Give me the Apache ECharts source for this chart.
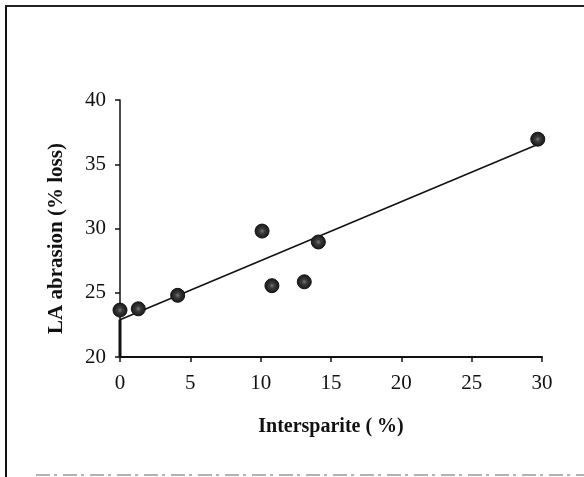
<!DOCTYPE html>
<html>
<head>
<meta charset="utf-8">
<title>LA abrasion vs Intersparite</title>
<script src="https://cdn.jsdelivr.net/npm/echarts@6/dist/echarts.min.js"></script>
<style>
  html, body { margin: 0; padding: 0; background: #fff; }
  #chart { width: 584px; height: 477px; }
</style>
</head>
<body>
<div id="chart"></div>
<script>
// measured samples
const intersparite = [0, 1.3, 4.1, 10.1, 10.8, 13.1, 14.1, 29.7]
const laAbrasion = [23.65, 23.75, 24.8, 29.8, 25.55, 25.85, 28.95, 36.95]

// fitted line end points
const fitX = [0, 29.6]
const fitY = [22.9, 36.5]

// thick stub on the y axis below the first point
const stubX = [0, 0]
const stubY = [20, 22.9]

const xTicks = [0, 5, 10, 15, 20, 25, 30]
const yTicks = [20, 25, 30, 35, 40]

const font = 'Liberation Serif'

const chart = echarts.init(document.getElementById('chart'), null, { renderer: 'canvas' })

chart.setOption({
  animation: false,
  backgroundColor: '#fff',
  grid: { left: 120, right: 42, top: 100, bottom: 120 },
  xAxis: {
    type: 'value',
    min: xTicks[0],
    max: xTicks[xTicks.length - 1],
    interval: xTicks[1] - xTicks[0],
    name: 'Intersparite ( %)',
    nameLocation: 'middle',
    nameGap: 60,
    nameTextStyle: { fontFamily: font, fontSize: 20, fontWeight: 'bold', color: '#111' },
    axisLine: { lineStyle: { color: '#111', width: 2 } },
    axisTick: { length: 5, lineStyle: { color: '#111', width: 1.5 } },
    axisLabel: { fontFamily: font, fontSize: 21, color: '#111', margin: 16 },
    splitLine: { show: false },
  },
  yAxis: {
    type: 'value',
    min: yTicks[0],
    max: yTicks[yTicks.length - 1],
    interval: yTicks[1] - yTicks[0],
    name: 'LA abrasion (% loss)',
    nameLocation: 'middle',
    nameGap: 53,
    nameTextStyle: {
      fontFamily: font,
      fontSize: 21,
      fontWeight: 'bold',
      color: '#111',
      padding: [0, 20, 0, 0],
    },
    axisLine: { lineStyle: { color: '#111', width: 1.5 } },
    axisTick: { length: 5, lineStyle: { color: '#111', width: 1.5 } },
    axisLabel: { fontFamily: font, fontSize: 21, color: '#111', margin: 14 },
    splitLine: { show: false },
  },
  graphic: [
    // scanned page frame
    { type: 'line', shape: { x1: 6, y1: 5, x2: 6, y2: 477 }, style: { stroke: '#111', lineWidth: 2 } },
    { type: 'line', shape: { x1: 5, y1: 6, x2: 584, y2: 6 }, style: { stroke: '#222', lineWidth: 2 } },
    {
      type: 'line',
      shape: { x1: 36, y1: 475, x2: 584, y2: 475 },
      style: { stroke: '#999', lineWidth: 1.5, lineDash: [14, 4, 3, 6] },
    },
  ],
  series: [
    {
      type: 'line',
      data: stubX.map((x, i) => [x, stubY[i]]),
      symbol: 'none',
      lineStyle: { color: '#111', width: 3 },
      z: 3,
    },
    {
      type: 'line',
      data: fitX.map((x, i) => [x, fitY[i]]),
      symbol: 'none',
      lineStyle: { color: '#111', width: 1.5 },
      z: 3,
    },
    {
      type: 'scatter',
      data: intersparite.map((x, i) => [x, laAbrasion[i]]),
      symbolSize: 14,
      itemStyle: {
        color: {
          type: 'radial',
          x: 0.5,
          y: 0.5,
          r: 0.5,
          colorStops: [
            { offset: 0, color: '#777' },
            { offset: 0.35, color: '#3a3a3a' },
            { offset: 1, color: '#161616' },
          ],
        },
        borderColor: '#111',
        borderWidth: 1,
        opacity: 1,
      },
      z: 4,
    },
  ],
})
</script>
</body>
</html>
